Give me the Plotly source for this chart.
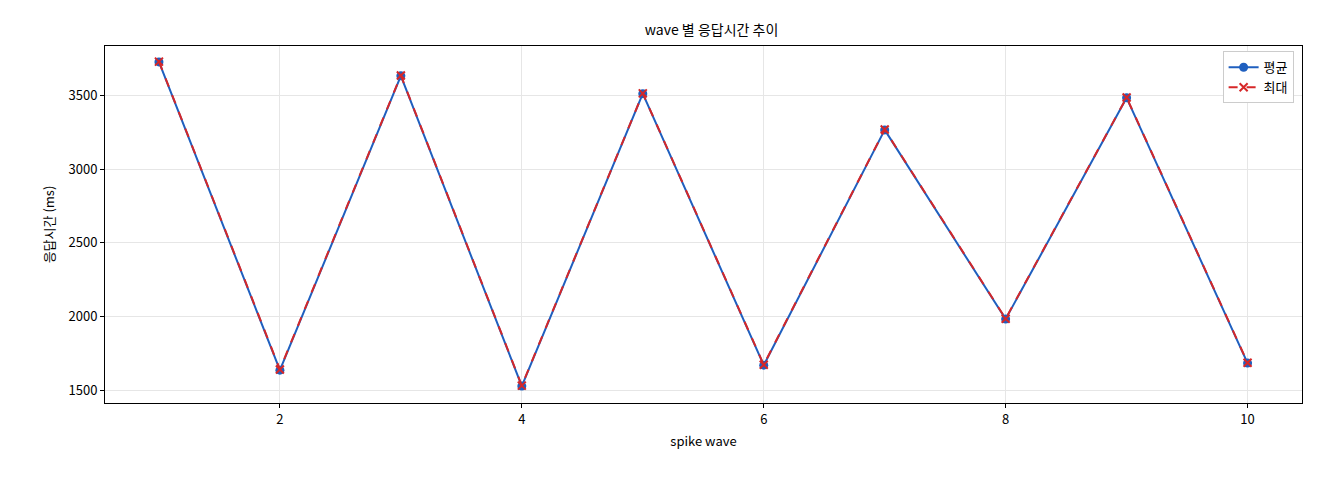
import plotly.graph_objects as go

waves = [1, 2, 3, 4, 5, 6, 7, 8, 9, 10]
avg_ms = [3730, 1635, 3635, 1527, 3514, 1669, 3268, 1982, 3486, 1683]
max_ms = [3732, 1640, 3638, 1530, 3516, 1672, 3270, 1985, 3488, 1686]

F = "Noto Sans CJK KR"
fig = go.Figure()
fig.add_trace(go.Scatter(x=waves, y=avg_ms, name="평균", mode="lines+markers",
                         line=dict(color="#1f5fbf", width=2), marker=dict(size=9, color="#1f5fbf")))
fig.add_trace(go.Scatter(x=waves, y=max_ms, name="최대", mode="lines+markers",
                         line=dict(color="#d62728", width=2, dash="dash"),
                         marker=dict(symbol="x-thin", size=8, color="#d62728", line=dict(width=2, color="#d62728"))))
ax = dict(showline=True, linecolor="black", mirror=True, gridcolor="#e6e6e6", ticks="outside",
          tickcolor="black", ticklen=4, zeroline=False, tickfont=dict(size=13, color="black"),
          automargin=False)
fig.update_layout(
    width=1320, height=480, plot_bgcolor="white", paper_bgcolor="white",
    font=dict(family=F, color="black"),
    margin=dict(l=97, r=26, t=38, b=85),
    title=dict(text="wave 별 응답시간 추이", x=0.533, xanchor="center", y=0.965, font=dict(size=14)),
    xaxis=dict(**ax, range=[0.554, 10.45], tickvals=[2, 4, 6, 8, 10],
               title=dict(text="spike wave", font=dict(size=13), standoff=10)),
    yaxis=dict(**ax, range=[1412, 3838], tickvals=[1500, 2000, 2500, 3000, 3500],
               title=dict(text="응답시간 (ms)", font=dict(size=13), standoff=10)),
    legend=dict(x=0.993, y=0.985, xanchor="right", yanchor="top", bordercolor="#cccccc",
                borderwidth=1, bgcolor="white", font=dict(size=13)),
)
fig.write_html("out.html")
